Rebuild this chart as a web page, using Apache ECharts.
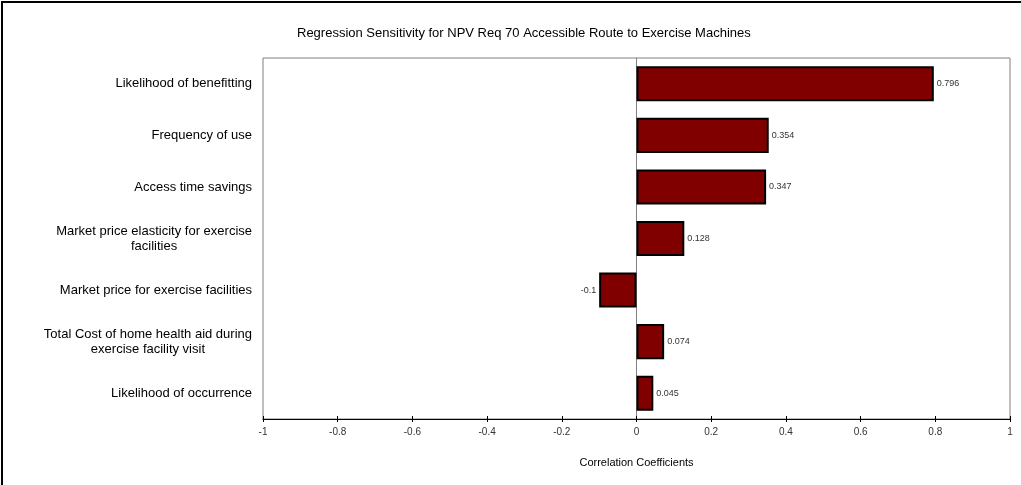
<!DOCTYPE html>
<html>
<head>
<meta charset="utf-8">
<script src="https://cdn.jsdelivr.net/npm/echarts@6/dist/echarts.min.js"></script>
<style>
  html, body { margin: 0; padding: 0; background: #fff; }
  #chart { width: 1021px; height: 485px; }
</style>
</head>
<body>
<div id="chart"></div>
<script>
// factors, top to bottom
var factors = [
  "Likelihood of benefitting",
  "Frequency of use",
  "Access time savings",
  "Market price elasticity for exercise\nfacilities",
  "Market price for exercise facilities",
  "Total Cost of home health aid during\nexercise facility visit",
  "Likelihood of occurrence"
];
var coefficients = [0.796, 0.354, 0.347, 0.128, -0.1, 0.074, 0.045];
var xTicks = [-1, -0.8, -0.6, -0.4, -0.2, 0, 0.2, 0.4, 0.6, 0.8, 1];

var FONT = "Liberation Sans, Arial, sans-serif";
var chart = echarts.init(document.getElementById("chart"));

var barData = coefficients.map(function (v) {
  return {
    value: v,
    label: { position: v < 0 ? "left" : "right" }
  };
});

var option = {
  animation: false,
  textStyle: { fontFamily: FONT },
  title: {
    text: "Regression Sensitivity for NPV Req 70 Accessible Route to Exercise Machines",
    left: 292,
    top: 22,
    textStyle: { fontSize: 13, fontWeight: "normal", color: "#000", fontFamily: FONT }
  },
  graphic: [
    {
      // outer frame (only left/top visible)
      type: "rect",
      shape: { x: 2, y: 2, width: 1030, height: 500 },
      style: { fill: "none", stroke: "#000", lineWidth: 2 },
      silent: true
    }
  ],
  grid: {
    left: 263,
    right: 11,
    top: 58,
    bottom: 66,
    show: true,
    borderColor: "#808080",
    borderWidth: 1,
    backgroundColor: "#fff"
  },
  xAxis: [
    {
      type: "value",
      min: -1,
      max: 1,
      interval: 0.2,
      name: "Correlation Coefficients",
      nameLocation: "middle",
      nameGap: 38,
      nameTextStyle: { fontSize: 11, color: "#000" },
      splitLine: { show: false },
      axisLine: { show: true, lineStyle: { color: "#000", width: 1 } },
      axisTick: { show: true, length: 3, lineStyle: { color: "#000" } },
      axisLabel: {
        fontSize: 10,
        color: "#333",
        margin: 8,
        formatter: function (v) {
          var t = xTicks.filter(function (x) { return Math.abs(x - v) < 1e-9; });
          return t.length ? String(t[0]) : "";
        }
      }
    },
    {
      // inner half of the crossing ticks
      type: "value",
      min: -1,
      max: 1,
      interval: 0.2,
      position: "bottom",
      splitLine: { show: false },
      axisLine: { show: false },
      axisTick: { show: true, inside: true, length: 3, lineStyle: { color: "#000" } },
      axisLabel: { show: false }
    }
  ],
  yAxis: {
    type: "category",
    inverse: true,
    data: factors,
    axisLine: { show: true, onZero: true, lineStyle: { color: "#808080", width: 1 } },
    axisTick: { show: false },
    splitLine: { show: false },
    axisLabel: {
      margin: 11,
      color: "#000",
      fontSize: 13,
      lineHeight: 15,
      formatter: function (v) {
        return v.split("\n").map(function (s) { return "{c|" + s + "}"; }).join("\n");
      },
      rich: {
        c: { align: "center", fontSize: 13, lineHeight: 15, color: "#000", fontFamily: FONT }
      }
    }
  },
  series: [
    {
      type: "bar",
      data: barData,
      barCategoryGap: "32%",
      itemStyle: { color: "#800000", borderColor: "#000", borderWidth: 2 },
      label: {
        show: true,
        distance: 3,
        fontSize: 9,
        color: "#333",
        formatter: function (p) { return String(p.value); }
      }
    }
  ]
};

chart.setOption(option);
</script>
</body>
</html>
